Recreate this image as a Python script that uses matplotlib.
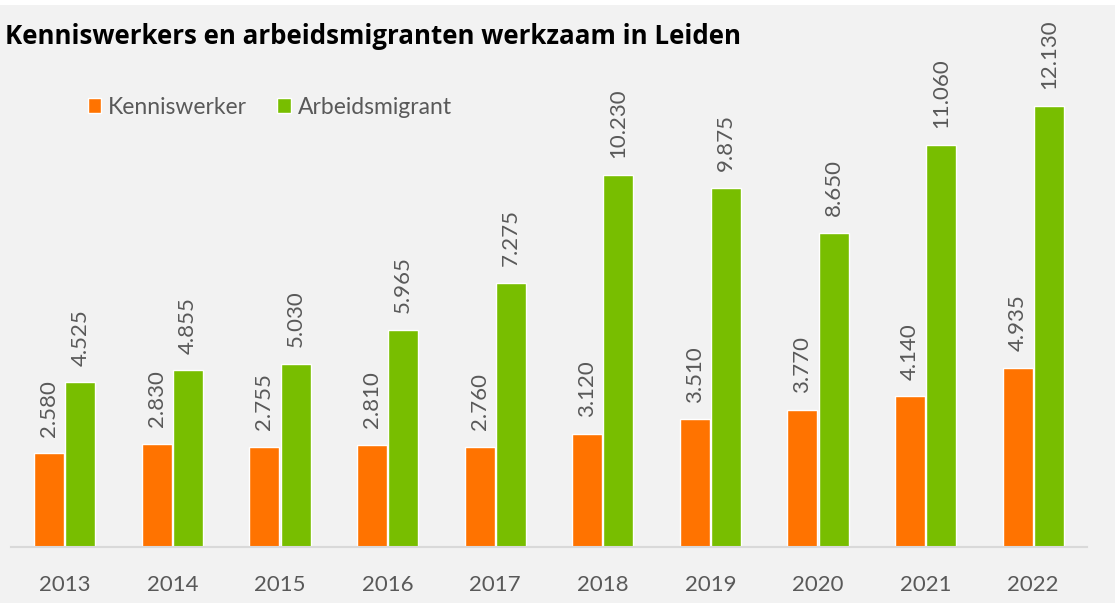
import matplotlib
matplotlib.use("Agg")
import matplotlib.pyplot as plt
import numpy as np
from matplotlib.patches import Rectangle

years = ["2013", "2014", "2015", "2016", "2017", "2018", "2019", "2020", "2021", "2022"]
kenniswerker = [2580, 2830, 2755, 2810, 2760, 3120, 3510, 3770, 4140, 4935]
arbeidsmigrant = [4525, 4855, 5030, 5965, 7275, 10230, 9875, 8650, 11060, 12130]

ORANGE = "#FF7300"
GREEN = "#78BE00"
TEXT = "#595959"
BG = "#F2F2F2"

plt.rcParams["font.family"] = ["Lato", "DejaVu Sans"]


def fmt(v):
    return f"{v:,}".replace(",", ".")


fig = plt.figure(figsize=(11.15, 6.03), dpi=100, facecolor=BG)
# thin white strip at the very top
fig.patches.append(Rectangle((0, 1 - 5 / 603), 1, 5 / 603, transform=fig.transFigure,
                             facecolor="white", edgecolor="none", zorder=0))

ax = fig.add_axes([11 / 1115, 56 / 603, 1076 / 1115, 509 / 603])
ax.set_facecolor(BG)

x = np.arange(len(years))
w = 0.28
b1 = ax.bar(x - 0.145, kenniswerker, w, color=ORANGE, edgecolor="white", linewidth=1,
            label="Kenniswerker")
b2 = ax.bar(x + 0.145, arbeidsmigrant, w, color=GREEN, edgecolor="white", linewidth=1,
            label="Arbeidsmigrant")

for bars, vals in ((b1, kenniswerker), (b2, arbeidsmigrant)):
    for rect, v in zip(bars, vals):
        ax.annotate(fmt(v), (rect.get_x() + rect.get_width() / 2, v),
                    xytext=(0, 12), textcoords="offset points", rotation=90,
                    ha="center", va="bottom", fontsize=16, color=TEXT)

ax.set_xlim(-0.5, len(years) - 0.5)
ax.set_ylim(0, 14000)
ax.set_xticks(x)
ax.set_xticklabels(years, fontsize=16, color=TEXT)
ax.tick_params(axis="x", length=0, pad=20)
ax.set_yticks([])
for s in ("top", "right", "left"):
    ax.spines[s].set_visible(False)
ax.spines["bottom"].set_color("#D9D9D9")
ax.spines["bottom"].set_linewidth(1.5)

fig.text(5 / 1115, 1 - 36 / 603, "Kenniswerkers en arbeidsmigranten werkzaam in Leiden",
         fontsize=18.6, fontweight="bold", color="black", ha="left", va="center",
         family=["Open Sans", "DejaVu Sans"])

fig.legend(handles=[b1, b2], loc="center left", bbox_to_anchor=(67 / 1115, 1 - 107 / 603),
           ncol=2, frameon=False, fontsize=16.5, labelcolor=TEXT, handlelength=0.6,
           handleheight=0.6, handletextpad=0.3, columnspacing=1.3)

fig.savefig("out.png", dpi=100, facecolor=BG)
